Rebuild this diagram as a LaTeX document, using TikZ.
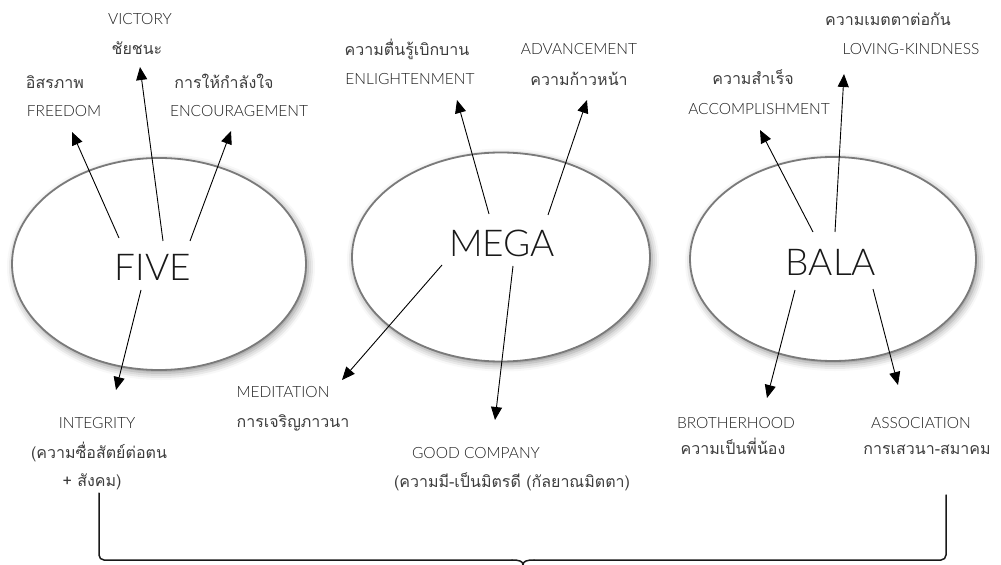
\documentclass[tikz,border=0pt]{standalone}
\usepackage{fontspec}
\usetikzlibrary{arrows.meta,shadows.blur,shapes.geometric}
\newfontfamily\latf{Lato}[UprightFont={* Light}]
\newfontfamily\thaif[Script=Thai]{Loma}
\definecolor{txt}{HTML}{1E1E1E}
\definecolor{thtxt}{HTML}{3C3C3C}
\definecolor{rim}{HTML}{7A7A7A}
\begin{document}
\begin{tikzpicture}[x=1bp,y=-1bp,
  oval/.style={ellipse,draw=rim,line width=1.8bp,fill=white,inner sep=0,
    blur shadow={shadow xshift=2bp,shadow yshift=-3bp,shadow blur radius=7bp,shadow opacity=45}},
  big/.style={font=\latf\fontsize{37bp}{42bp}\selectfont,text=black!90,inner sep=0},
  lab/.style={font=\latf\fontsize{15.5bp}{18bp}\selectfont,text=txt,inner sep=0,anchor=base},
  th/.style={font=\thaif\fontsize{16bp}{18bp}\selectfont,text=thtxt,inner sep=0,anchor=base},
  arr/.style={line width=0.9bp,-{Triangle[length=13bp,width=11bp]}},
  brace/.style={line width=1.5bp,draw=black!90,line cap=round,line join=round}]
\useasboundingbox (0,0) rectangle (1001,565);
% ovals
\node[oval,minimum width=294bp,minimum height=212bp] (e1) at (159,264) {};
\node[oval,minimum width=298bp,minimum height=209bp] (e2) at (501,257) {};
\node[oval,minimum width=286bp,minimum height=204bp] (e3) at (833,259) {};
\node[big] (five) at (153,267) {FIVE};
\node[big] (mega) at (502,243) {MEGA};
\node[big] (bala) at (831,262) {BALA};
% FIVE labels
\node[lab] (victory) at (140,25) {VICTORY};
\node[th] (victoryt) at (137,55) {ชัยชนะ};
\node[th] (freedomt) at (55,89) {อิสรภาพ};
\node[lab] (freedom) at (64,117) {FREEDOM};
\node[th] (encourt) at (224,89) {การให้กำลังใจ};
\node[lab] (encour) at (239,117) {ENCOURAGEMENT};
\node[lab] (integ) at (97,428) {INTEGRITY};
\node[th] (integt) at (99,458) {(ความซื่อสัตย์ต่อตน};
\node[th] (integu) at (92,486) {+ สังคม)};
% MEGA labels
\node[th] (enlight) at (407,56) {ความตื่นรู้เบิกบาน};
\node[lab] (enlighte) at (410,85) {ENLIGHTENMENT};
\node[lab] (advance) at (579,55) {ADVANCEMENT};
\node[th] (advancet) at (579,86) {ความก้าวหน้า};
\node[lab] (medit) at (283,397) {MEDITATION};
\node[th] (meditt) at (293,427) {การเจริญภาวนา};
\node[lab] (goodc) at (476,458) {GOOD COMPANY};
\node[th] (goodct) at (512,487) {(ความมี-เป็นมิตรดี (กัลยาณมิตตา)};
% BALA labels
\node[th] (lovingt) at (888,26) {ความเมตตาต่อกัน};
\node[lab] (loving) at (911,55) {LOVING-KINDNESS};
\node[th] (accompt) at (753,85) {ความสำเร็จ};
\node[lab] (accomp) at (759,115) {ACCOMPLISHMENT};
\node[lab] (broth) at (736,428) {BROTHERHOOD};
\node[th] (brotht) at (733,454) {ความเป็นพี่น้อง};
\node[lab] (assoc) at (921,428) {ASSOCIATION};
\node[th] (assoct) at (927,454) {การเสวนา-สมาคม};
% arrow end points
\coordinate (s1) at (119,238); \coordinate (t1) at (72,132);
\coordinate (s2) at (163,241); \coordinate (t2) at (140,67);
\coordinate (s3) at (190,241); \coordinate (t3) at (231,131);
\coordinate (s4) at (141,290); \coordinate (t4) at (116,390);
\coordinate (s5) at (489,214); \coordinate (t5) at (457,100);
\coordinate (s6) at (548,215); \coordinate (t6) at (587,100);
\coordinate (s7) at (442,265); \coordinate (t7) at (342,380);
\coordinate (s8) at (513,266); \coordinate (t8) at (495,420);
\coordinate (s9) at (813,232); \coordinate (t9) at (760,130);
\coordinate (s10) at (835,232); \coordinate (t10) at (844,74);
\coordinate (s11) at (795,290); \coordinate (t11) at (767,398);
\coordinate (s12) at (873,289); \coordinate (t12) at (898,385);
\foreach \i in {1,...,12} {\draw[arr] (s\i) -- (t\i);}
% brace
\coordinate (bl) at (99,493);
\coordinate (br) at (946,495);
\coordinate (bm) at (523,565);
\draw[brace,rounded corners=5bp] (bl) -- (99,560) -- (512,560);
\draw[brace] (512,560) .. controls (519,560) and (523,561) .. (bm) .. controls (523,561) and (527,560) .. (534,560);
\draw[brace,rounded corners=5bp] (534,560) -- (946,560) -- (br);
\end{tikzpicture}
\end{document}
